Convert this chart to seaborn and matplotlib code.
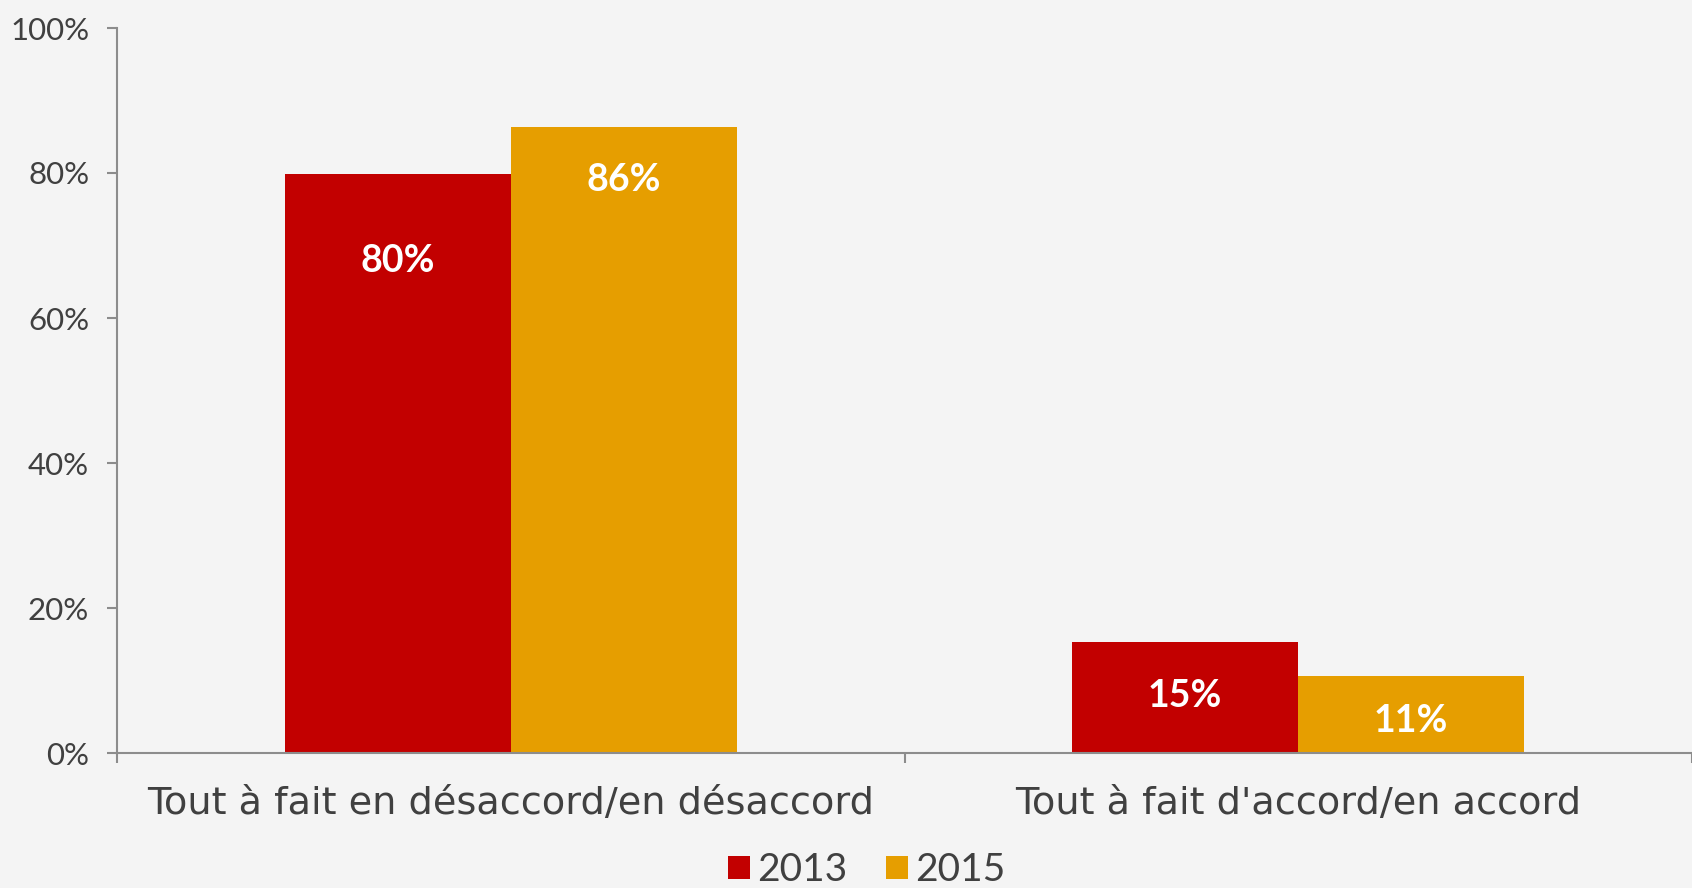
import pandas as pd
import seaborn as sns
import matplotlib.pyplot as plt
from matplotlib.ticker import PercentFormatter, FixedLocator

# Data
categories = ['Tout à fait en désaccord/en désaccord', "Tout à fait d'accord/en accord"]
years = ['2013', '2015']
values_2013 = [79.8, 15.3]
values_2015 = [86.3, 10.6]
bar_labels = ['80%', '15%', '86%', '11%']

df = pd.DataFrame({
    'categorie': categories * 2,
    'annee': [years[0]] * 2 + [years[1]] * 2,
    'valeur': values_2013 + values_2015,
})

sns.set_theme(style='white')
plt.rcParams['font.family'] = ['Lato', 'DejaVu Sans']
text_col = '#404040'
axis_col = '#8c8c8c'

fig = plt.figure(figsize=(16.92, 8.88), dpi=100)
fig.patch.set_facecolor('#f4f4f4')
ax = fig.add_axes([117 / 1692, 1 - 753 / 888, 1 - 117 / 1692, (753 - 28) / 888])
ax.set_facecolor('none')

sns.barplot(data=df, x='categorie', y='valeur', hue='annee',
            palette=['#c20000', '#e69e00'], width=0.574, gap=0,
            saturation=1, linewidth=0, ax=ax, legend=True)

# labels inside the bars (offset below the top, in pixels)
offsets = [87, 54, 53, 45]
for bar, lab, off in zip(ax.patches, bar_labels, offsets):
    ax.annotate(lab, (bar.get_x() + bar.get_width() / 2, bar.get_height()),
                xytext=(0, -off * 0.72), textcoords='offset points',
                ha='center', va='center', color='white',
                fontsize=27, fontweight='bold')

ax.set_ylim(0, 100)
ax.set_xlim(-0.5, 1.5)
ax.yaxis.set_major_formatter(PercentFormatter(decimals=0))
ax.set_yticks(range(0, 101, 20))
ax.set_xlabel('')
ax.set_ylabel('')

for s in ['top', 'right']:
    ax.spines[s].set_visible(False)
for s in ['left', 'bottom']:
    ax.spines[s].set_color(axis_col)
    ax.spines[s].set_linewidth(1.5)

ax.tick_params(axis='y', which='major', left=True, length=7, width=1.5,
               color=axis_col, labelsize=22.5, labelcolor=text_col, pad=13)
ax.tick_params(axis='x', which='major', bottom=False, labelcolor=text_col, pad=18)
for lab in ax.get_xticklabels():
    lab.set_fontfamily('DejaVu Sans')
    lab.set_fontsize(27.5)
ax.xaxis.set_minor_locator(FixedLocator([-0.5, 0.5, 1.5]))
ax.tick_params(axis='x', which='minor', bottom=True, length=7, width=1.5,
               color=axis_col)

handles, labels = ax.get_legend_handles_labels()
ax.legend(handles, labels, loc='center', bbox_to_anchor=(867 / 1692, 1 - 870 / 888),
          bbox_transform=fig.transFigure, ncol=2, frameon=False,
          fontsize=28, labelcolor=text_col, handlelength=0.55, handleheight=0.55,
          handletextpad=0.2, columnspacing=1.0, borderaxespad=0)

fig.savefig('out.png', dpi=100, facecolor=fig.get_facecolor())
